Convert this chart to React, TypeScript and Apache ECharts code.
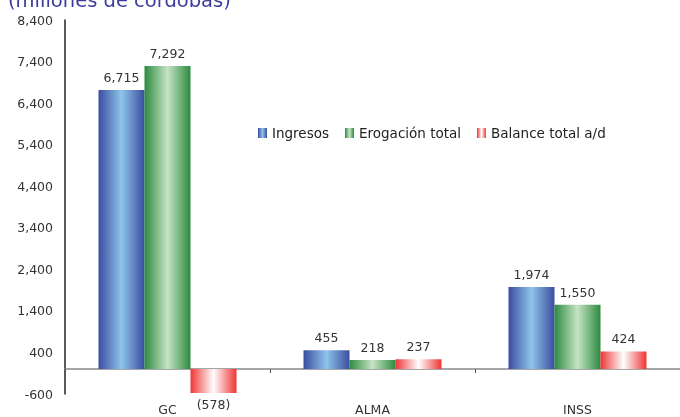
import React, { useEffect, useRef } from "react";
import * as echarts from "echarts";

const categories = ["GC", "ALMA", "INSS"];
const ingresos = [6715, 455, 1974];
const erogacion = [7292, 218, 1550];
const balance = [-578, 237, 424];
const seriesNames = ["Ingresos", "Erogación total", "Balance total a/d"];
const titleText = "(millones de córdobas)";

const fmt = (v: number) => {
  const s = Math.abs(v).toLocaleString("en-US");
  return v < 0 ? `(${s})` : s;
};

const grad = (edge: string, mid: string) =>
  new echarts.graphic.LinearGradient(0, 0, 1, 0, [
    { offset: 0, color: edge },
    { offset: 0.5, color: mid },
    { offset: 1, color: edge },
  ]);

export default function App() {
  const ref = useRef<HTMLDivElement>(null);
  useEffect(() => {
    if (!ref.current) return;
    const chart = echarts.init(ref.current, undefined, { renderer: "svg" });
    const font = "DejaVu Sans";
    const colors = [
      grad("#3b4d9f", "#8ec4ea"),
      grad("#2c8a40", "#c6e4c4"),
      grad("#ee3535", "#ffffff"),
    ];
    const label = {
      show: true,
      position: "top",
      distance: 6,
      color: "#333",
      fontFamily: font,
      fontSize: 12.5,
      formatter: (p: any) => fmt(p.value),
    };
    const mk = (name: string, data: number[], i: number) => ({
      name,
      type: "bar",
      barWidth: 46,
      barGap: "0%",
      itemStyle: { color: colors[i] },
      label,
      data: data.map((v) =>
        v < 0 ? { value: v, label: { position: "bottom", distance: 5 } } : v
      ),
    });
    chart.setOption({
      animation: false,
      textStyle: { fontFamily: font },
      title: {
        text: titleText,
        left: 3,
        top: -15,
        textStyle: { fontSize: 19.5, fontWeight: "normal", color: "#3d3d9c", fontFamily: font },
      },
      legend: {
        left: 253,
        top: 121,
        itemWidth: 9,
        itemHeight: 10,
        itemGap: 16,
        icon: "rect",
        textStyle: { fontSize: 13.5, color: "#222", fontFamily: font },
      },
      grid: { left: 65, right: 0, top: 20, bottom: 23, containLabel: false, outerBoundsMode: "none" },
      xAxis: {
        type: "category",
        data: categories,
        axisLine: { onZero: true, lineStyle: { color: "#888", width: 1.5 } },
        axisTick: { show: true, length: 4, lineStyle: { color: "#555" } },
        axisLabel: { margin: 9, color: "#333", fontSize: 12.5, fontFamily: font },
      },
      yAxis: {
        type: "value",
        min: -600,
        max: 8400,
        interval: 1000,
        splitLine: { show: false },
        axisLine: { show: true, lineStyle: { color: "#222", width: 1.5 } },
        axisTick: { show: false },
        axisLabel: {
          margin: 12,
          color: "#333",
          fontSize: 12.5,
          fontFamily: font,
          formatter: (v: number) => v.toLocaleString("en-US"),
        },
      },
      series: [
        mk(seriesNames[0], ingresos, 0),
        mk(seriesNames[1], erogacion, 1),
        mk(seriesNames[2], balance, 2),
      ],
    });
    return () => chart.dispose();
  }, []);
  return <div ref={ref} style={{ width: 680, height: 417, position: "fixed", left: 0, top: 0 }} />;
}
